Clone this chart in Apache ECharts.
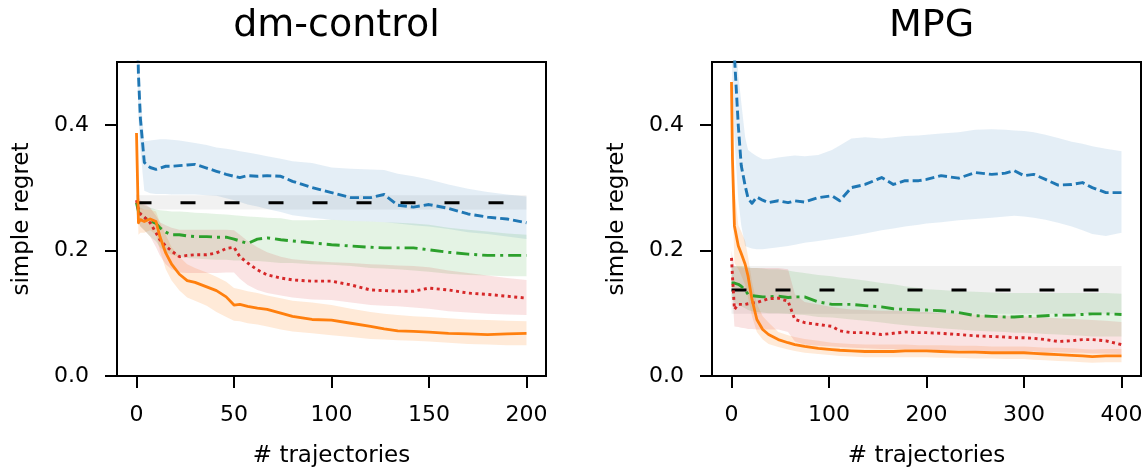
<!DOCTYPE html>
<html>
<head>
<meta charset="utf-8">
<script src="https://cdn.jsdelivr.net/npm/echarts@6/dist/echarts.min.js"></script>
<style>
html,body{margin:0;padding:0;background:#fff;}
#chart{width:1145px;height:467px;}
</style>
</head>
<body>
<div id="chart"></div>
<script>
// ---------------- DATA ----------------
const TITLES = ['dm-control', 'MPG'];
const X_NAME = '# trajectories';
const Y_NAME = 'simple regret';
const X_TICKS_L = [0, 50, 100, 150, 200];
const X_TICKS_R = [0, 100, 200, 300, 400];
const Y_TICKS = [0, 0.2, 0.4];

// dm-control (left)
const X_L = [0,1,2,4,7,10,12,15,18,22,26,30,36,41,46,50,53,57,62,67,74,80,90,100,110,120,127,134,142,150,160,170,180,190,200];
const blueL    = [0.62,0.48,0.41,0.34,0.332,0.329,0.331,0.334,0.334,0.335,0.336,0.337,0.331,0.326,0.321,0.318,0.316,0.319,0.318,0.319,0.318,0.31,0.3,0.292,0.284,0.284,0.289,0.272,0.269,0.273,0.267,0.258,0.253,0.25,0.244];
const blueL_hi = [0.7,0.55,0.45,0.374,0.375,0.376,0.377,0.377,0.376,0.375,0.373,0.371,0.368,0.364,0.362,0.36,0.358,0.356,0.353,0.35,0.346,0.342,0.339,0.332,0.33,0.329,0.328,0.322,0.318,0.313,0.305,0.298,0.293,0.289,0.286];
const blueL_lo = [0.54,0.41,0.36,0.295,0.291,0.29,0.29,0.29,0.289,0.289,0.289,0.289,0.288,0.287,0.283,0.28,0.277,0.273,0.27,0.266,0.261,0.256,0.252,0.249,0.247,0.246,0.245,0.243,0.24,0.238,0.234,0.229,0.226,0.222,0.218];
const orangeL    = [0.387,0.244,0.249,0.246,0.25,0.246,0.222,0.196,0.178,0.162,0.152,0.149,0.142,0.136,0.126,0.113,0.114,0.111,0.108,0.106,0.1,0.095,0.09,0.089,0.084,0.079,0.075,0.072,0.071,0.07,0.068,0.067,0.066,0.067,0.068];
const orangeL_hi = [0.39,0.27,0.268,0.265,0.265,0.262,0.245,0.225,0.205,0.19,0.178,0.172,0.165,0.158,0.15,0.14,0.138,0.135,0.132,0.128,0.124,0.12,0.117,0.113,0.107,0.102,0.099,0.097,0.095,0.094,0.092,0.09,0.089,0.088,0.087];
const orangeL_lo = [0.38,0.225,0.228,0.228,0.232,0.225,0.2,0.17,0.152,0.136,0.125,0.12,0.112,0.102,0.094,0.088,0.087,0.084,0.082,0.079,0.074,0.071,0.068,0.065,0.062,0.059,0.058,0.057,0.056,0.055,0.053,0.051,0.05,0.049,0.049];
const greenL    = [0.276,0.262,0.256,0.252,0.247,0.243,0.236,0.229,0.225,0.225,0.223,0.222,0.222,0.221,0.221,0.218,0.215,0.211,0.218,0.22,0.217,0.215,0.212,0.209,0.207,0.205,0.204,0.204,0.204,0.201,0.197,0.194,0.192,0.192,0.192];
const greenL_hi = [0.29,0.28,0.275,0.272,0.268,0.265,0.264,0.263,0.262,0.262,0.261,0.26,0.259,0.258,0.257,0.256,0.255,0.254,0.253,0.252,0.251,0.248,0.248,0.249,0.247,0.246,0.245,0.244,0.243,0.241,0.236,0.233,0.23,0.227,0.225];
const greenL_lo = [0.26,0.245,0.238,0.232,0.222,0.214,0.205,0.197,0.193,0.19,0.188,0.187,0.186,0.185,0.185,0.184,0.184,0.183,0.183,0.182,0.18,0.18,0.178,0.177,0.175,0.172,0.171,0.17,0.168,0.166,0.163,0.161,0.16,0.159,0.159];
const redL    = [0.28,0.265,0.258,0.253,0.244,0.228,0.217,0.207,0.199,0.19,0.192,0.193,0.193,0.196,0.203,0.205,0.19,0.18,0.169,0.161,0.156,0.153,0.151,0.151,0.145,0.137,0.136,0.135,0.135,0.14,0.137,0.132,0.13,0.127,0.124];
const redL_hi = [0.29,0.285,0.28,0.275,0.268,0.255,0.245,0.24,0.236,0.233,0.233,0.233,0.233,0.233,0.233,0.232,0.225,0.215,0.205,0.197,0.19,0.186,0.183,0.181,0.18,0.178,0.177,0.176,0.175,0.173,0.168,0.164,0.16,0.156,0.153];
const redL_lo = [0.27,0.245,0.238,0.232,0.222,0.205,0.192,0.178,0.17,0.165,0.164,0.164,0.164,0.164,0.165,0.165,0.155,0.145,0.137,0.132,0.128,0.125,0.122,0.121,0.117,0.113,0.112,0.111,0.109,0.107,0.103,0.101,0.099,0.098,0.097];
const baseX_L = [0, 200];
const baseL    = [0.276, 0.276];
const baseL_hi = [0.288, 0.288];
const baseL_lo = [0.265, 0.265];

// MPG (right)
const X_R = [0,1,3,7,10,14,17,21,26,32,38,48,58,65,75,89,103,111,123,137,154,166,178,192,200,215,233,250,267,281,290,300,310,322,335,349,360,370,384,400];
const blueR    = [0.65,0.58,0.51,0.398,0.335,0.303,0.283,0.275,0.285,0.28,0.276,0.279,0.276,0.279,0.277,0.284,0.287,0.279,0.3,0.305,0.316,0.305,0.311,0.311,0.313,0.319,0.315,0.324,0.321,0.323,0.327,0.319,0.321,0.313,0.304,0.305,0.308,0.3,0.292,0.292];
const blueR_hi = [0.75,0.7,0.6,0.48,0.436,0.38,0.36,0.355,0.35,0.345,0.345,0.348,0.35,0.351,0.35,0.352,0.36,0.367,0.378,0.38,0.378,0.38,0.382,0.383,0.384,0.386,0.388,0.392,0.393,0.392,0.391,0.39,0.388,0.384,0.379,0.373,0.37,0.366,0.362,0.358];
const blueR_lo = [0.55,0.45,0.38,0.28,0.24,0.207,0.205,0.203,0.202,0.202,0.203,0.205,0.207,0.209,0.212,0.215,0.218,0.22,0.223,0.227,0.232,0.235,0.238,0.241,0.243,0.245,0.248,0.25,0.252,0.254,0.255,0.254,0.252,0.249,0.244,0.238,0.232,0.226,0.223,0.228];
const orangeR    = [0.468,0.345,0.239,0.207,0.195,0.178,0.159,0.122,0.09,0.074,0.066,0.058,0.053,0.05,0.047,0.044,0.042,0.041,0.04,0.039,0.039,0.039,0.04,0.04,0.04,0.039,0.038,0.038,0.037,0.037,0.037,0.037,0.036,0.035,0.034,0.033,0.032,0.031,0.032,0.032];
const orangeR_hi = [0.48,0.4,0.3,0.24,0.23,0.215,0.19,0.15,0.115,0.095,0.085,0.07,0.065,0.062,0.059,0.056,0.053,0.052,0.051,0.05,0.05,0.05,0.05,0.049,0.049,0.049,0.048,0.048,0.047,0.047,0.047,0.047,0.046,0.045,0.045,0.044,0.043,0.042,0.043,0.043];
const orangeR_lo = [0.45,0.29,0.18,0.17,0.16,0.145,0.125,0.095,0.07,0.058,0.051,0.046,0.042,0.04,0.037,0.035,0.033,0.032,0.031,0.03,0.03,0.03,0.03,0.03,0.03,0.029,0.029,0.028,0.028,0.027,0.027,0.027,0.026,0.025,0.024,0.023,0.022,0.021,0.022,0.022];
const greenR    = [0.148,0.148,0.148,0.146,0.143,0.137,0.13,0.128,0.127,0.126,0.126,0.127,0.125,0.126,0.126,0.118,0.114,0.114,0.114,0.112,0.11,0.107,0.106,0.105,0.105,0.104,0.101,0.096,0.095,0.094,0.094,0.095,0.095,0.096,0.097,0.097,0.098,0.099,0.099,0.098];
const greenR_hi = [0.172,0.174,0.175,0.175,0.175,0.174,0.173,0.172,0.172,0.171,0.17,0.17,0.168,0.166,0.164,0.161,0.159,0.157,0.155,0.152,0.148,0.146,0.143,0.14,0.138,0.137,0.135,0.134,0.133,0.132,0.132,0.132,0.132,0.132,0.132,0.132,0.132,0.132,0.132,0.131];
const greenR_lo = [0.125,0.122,0.118,0.113,0.111,0.108,0.105,0.103,0.102,0.101,0.1,0.1,0.099,0.098,0.097,0.094,0.093,0.092,0.09,0.088,0.085,0.083,0.081,0.079,0.078,0.076,0.074,0.072,0.071,0.07,0.069,0.069,0.068,0.067,0.066,0.065,0.064,0.063,0.063,0.063];
const redR    = [0.188,0.159,0.106,0.114,0.114,0.114,0.115,0.116,0.117,0.12,0.123,0.124,0.119,0.09,0.085,0.082,0.079,0.072,0.069,0.069,0.066,0.068,0.07,0.069,0.069,0.068,0.066,0.064,0.063,0.062,0.061,0.061,0.06,0.058,0.055,0.056,0.058,0.058,0.056,0.05];
const redR_hi = [0.2,0.19,0.175,0.173,0.173,0.172,0.172,0.172,0.172,0.172,0.172,0.172,0.17,0.13,0.118,0.114,0.11,0.108,0.106,0.105,0.104,0.104,0.103,0.102,0.102,0.1,0.099,0.098,0.097,0.096,0.095,0.095,0.094,0.093,0.092,0.091,0.09,0.089,0.088,0.086];
const redR_lo = [0.17,0.13,0.079,0.078,0.077,0.076,0.075,0.075,0.074,0.074,0.074,0.074,0.07,0.055,0.05,0.048,0.047,0.046,0.045,0.044,0.043,0.043,0.042,0.042,0.042,0.041,0.041,0.04,0.04,0.04,0.039,0.039,0.039,0.038,0.038,0.037,0.037,0.036,0.036,0.035];
const baseX_R = [0, 400];
const baseR    = [0.137, 0.137];
const baseR_hi = [0.175, 0.175];
const baseR_lo = [0.099, 0.099];

// ---------------- STYLE ----------------
const FONT = 'DejaVu Sans';
const C = {blue:'#1f77b4', orange:'#ff7f0e', green:'#2ca02c', red:'#d62728', black:'#000000'};
const BAND = {blue:'rgba(31,119,180,0.12)', orange:'rgba(255,127,14,0.16)', green:'rgba(44,160,44,0.13)', red:'rgba(214,39,40,0.13)', black:'rgba(128,128,128,0.11)'};

const GRIDS = [
  {left:117, top:62, width:429, height:314},
  {left:712, top:62, width:429, height:314}
];

function pairs(xs, ys){ return xs.map((x,i)=>[x, ys[i]]); }

// band drawn as one polygon, every vertex mapped through the axes with api.coord
function band(xs, lo, hi, color, gi){
  return {type:'custom', xAxisIndex:gi, yAxisIndex:gi, clip:true, silent:true, z:1,
    data: xs.map((x,i)=>[x, lo[i], hi[i]]),
    encode:{x:0, y:[1,2]},
    renderItem:function(params, api){
      if (params.dataIndex !== 0) return null;
      const pts = [];
      for (let i = 0; i < xs.length; i++) pts.push(api.coord([xs[i], hi[i]]));
      for (let i = xs.length - 1; i >= 0; i--) pts.push(api.coord([xs[i], lo[i]]));
      return {type:'polygon', shape:{points:pts}, style:{fill:color, stroke:null}};
    }
  };
}
function line(xs, ys, color, type, width, gi, z){
  return {type:'line', xAxisIndex:gi, yAxisIndex:gi, data:pairs(xs, ys), symbol:'none', silent:true,
          clip:true, lineStyle:{color:color, type:type, width:width, cap:'butt', join:'round'}, z:z||3};
}

const STY = {
  blue:{type:[9,4], width:2.9},
  orange:{type:'solid', width:2.8},
  green:{type:[13,5,3,5], width:2.9},
  red:{type:[3,3.5], width:2.9},
  black:{type:[15,29], width:3}
};

const PANELS = [
  {x:X_L, bx:baseX_L, s:{blue:[blueL,blueL_lo,blueL_hi], orange:[orangeL,orangeL_lo,orangeL_hi], green:[greenL,greenL_lo,greenL_hi], red:[redL,redL_lo,redL_hi]}, base:[baseL,baseL_lo,baseL_hi]},
  {x:X_R, bx:baseX_R, s:{blue:[blueR,blueR_lo,blueR_hi], orange:[orangeR,orangeR_lo,orangeR_hi], green:[greenR,greenR_lo,greenR_hi], red:[redR,redR_lo,redR_hi]}, base:[baseR,baseR_lo,baseR_hi]}
];

const series = [];
PANELS.forEach((p, gi) => {
  series.push(band(p.bx, p.base[1], p.base[2], BAND.black, gi));
  ['blue','orange','green','red'].forEach(k => {
    series.push(band(p.x, p.s[k][1], p.s[k][2], BAND[k], gi));
  });
});
PANELS.forEach((p, gi) => {
  series.push(line(p.bx, p.base[0], C.black, STY.black.type, STY.black.width, gi, 3));
  ['blue','green','red','orange'].forEach((k, j) => {
    series.push(line(p.x, p.s[k][0], C[k], STY[k].type, STY[k].width, gi, 4 + j));
  });
});

function xAxis(gi, min, max, ticks){
  return {type:'value', gridIndex:gi, min:min, max:max,
    name:X_NAME, nameLocation:'middle', nameGap:69,
    nameTextStyle:{fontFamily:FONT, fontSize:23, color:'#000'},
    axisLine:{show:true, onZero:false, lineStyle:{color:'#000', width:2}},
    axisTick:{show:true, inside:false, length:12, customValues:ticks, lineStyle:{color:'#000', width:2}},
    axisLabel:{show:true, customValues:ticks, margin:28, fontFamily:FONT, fontSize:22, color:'#000',
               formatter:v=>String(v)},
    splitLine:{show:false}};
}
function yAxis(gi){
  return {type:'value', gridIndex:gi, min:0, max:0.5,
    name:Y_NAME, nameLocation:'middle', nameGap:83, nameRotate:90,
    nameTextStyle:{fontFamily:FONT, fontSize:23, color:'#000'},
    axisLine:{show:true, onZero:false, lineStyle:{color:'#000', width:2}},
    axisTick:{show:true, inside:false, length:12, customValues:Y_TICKS, lineStyle:{color:'#000', width:2}},
    axisLabel:{show:true, customValues:Y_TICKS, margin:28, fontFamily:FONT, fontSize:22, color:'#000',
               formatter:v=>Number(v).toFixed(1)},
    splitLine:{show:false}};
}

const option = {
  animation:false,
  backgroundColor:'#fff',
  title: GRIDS.map((g,i)=>({text:TITLES[i], left:g.left + g.width/2, top:2, textAlign:'center',
    textStyle:{fontFamily:FONT, fontSize:38, fontWeight:'normal', color:'#000'}})),
  grid: GRIDS.map(g=>({left:g.left, top:g.top, width:g.width, height:g.height, containLabel:false,
    outerBoundsMode:'none', show:true, borderColor:'#000', borderWidth:2, backgroundColor:'transparent'})),
  xAxis:[xAxis(0,-10,210,X_TICKS_L), xAxis(1,-20,420,X_TICKS_R)],
  yAxis:[yAxis(0), yAxis(1)],
  series: series
};

const chart = echarts.init(document.getElementById('chart'), null, {renderer:'canvas'});
chart.setOption(option);
</script>
</body>
</html>
